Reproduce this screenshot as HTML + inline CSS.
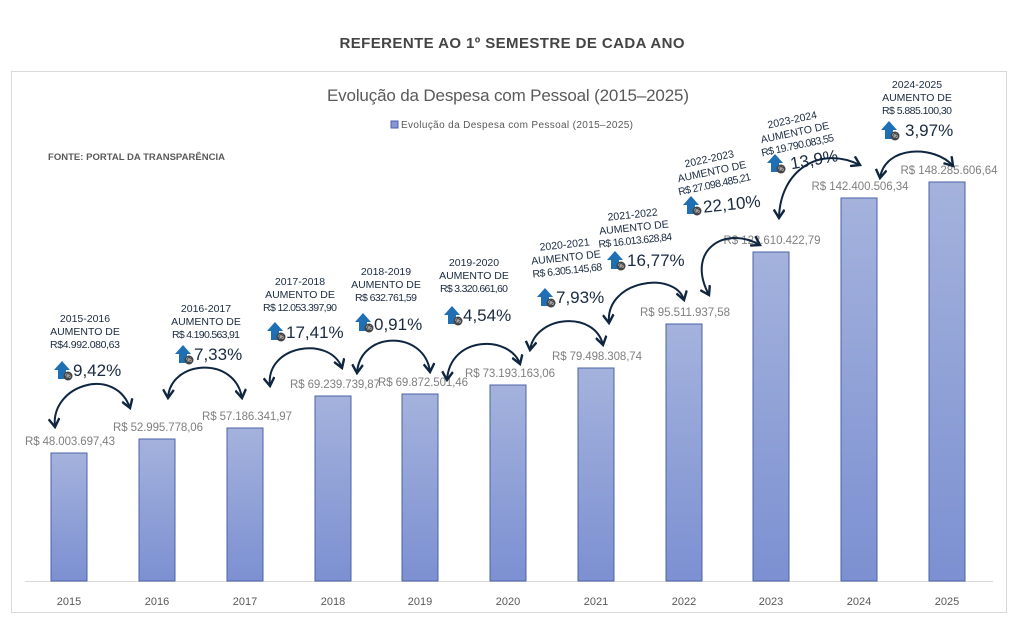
<!DOCTYPE html>
<html><head><meta charset="utf-8"><style>
body{margin:0;background:#fff;}
svg{display:block;font-family:"Liberation Sans",sans-serif;}
</style></head><body>
<svg width="1024" height="621" viewBox="0 0 1024 621" xmlns="http://www.w3.org/2000/svg">
<defs>
<linearGradient id="bg" x1="0" y1="0" x2="0" y2="1"><stop offset="0" stop-color="#a4b2dc"/><stop offset="1" stop-color="#7c90d2"/></linearGradient>
<marker id="ah" viewBox="0 0 10 10" refX="8" refY="5" markerWidth="6" markerHeight="6" orient="auto-start-reverse"><path d="M1,0.5 L8,5 L1,9.5" fill="none" stroke="#0f2540" stroke-width="2"/></marker>
<g id="ic"><path d="M-4,0 L-4,-9 L-8,-9 L0,-18 L8,-9 L4,-9 L4,0 Z" fill="#1f6fb5"/><circle cx="6" cy="-3" r="4.5" fill="#444"/><text x="6" y="-1" font-size="6" fill="#fff" text-anchor="middle">%</text></g>
</defs>
<text x="512" y="48" font-size="15" font-weight="bold" fill="#444" text-anchor="middle" textLength="345">REFERENTE AO 1º SEMESTRE DE CADA ANO</text>
<rect x="11.5" y="71.5" width="995" height="541" fill="#fff" stroke="#d9d9d9"/>
<text x="508" y="101" font-size="17" fill="#595959" text-anchor="middle" textLength="362">Evolução  da Despesa  com Pessoal  (2015–2025)</text>
<rect x="391" y="121" width="7" height="7" fill="#8797d4" stroke="#4a62a8"/>
<text x="401" y="128" font-size="10" fill="#595959" textLength="232">Evolução da Despesa com Pessoal (2015–2025)</text>
<text x="48" y="160" font-size="9.5" font-weight="bold" fill="#595959" textLength="177">FONTE: PORTAL DA TRANSPARÊNCIA</text>
<line x1="25" y1="581.5" x2="993" y2="581.5" stroke="#d9d9d9"/>
<g fill="url(#bg)" stroke="#4a62a8" stroke-width="1">
<rect x="51" y="453" width="36" height="128"/>
<rect x="139" y="439" width="36" height="142"/>
<rect x="227" y="428" width="36" height="153"/>
<rect x="315" y="396" width="36" height="185"/>
<rect x="402" y="394" width="36" height="187"/>
<rect x="490" y="385" width="36" height="196"/>
<rect x="578" y="368" width="36" height="213"/>
<rect x="666" y="324" width="36" height="257"/>
<rect x="753" y="252" width="36" height="329"/>
<rect x="841" y="198" width="36" height="383"/>
<rect x="929" y="182" width="36" height="399"/>
</g>
<g font-size="11" fill="#595959" text-anchor="middle">
<text x="69" y="605">2015</text><text x="157" y="605">2016</text><text x="245" y="605">2017</text><text x="333" y="605">2018</text><text x="420" y="605">2019</text><text x="508" y="605">2020</text><text x="596" y="605">2021</text><text x="684" y="605">2022</text><text x="771" y="605">2023</text><text x="859" y="605">2024</text><text x="947" y="605">2025</text>
</g>
<g font-size="11.5" fill="#7f7f7f" text-anchor="middle">
<text x="70" y="445" textLength="90">R$ 48.003.697,43</text>
<text x="158" y="431" textLength="90">R$ 52.995.778,06</text>
<text x="247" y="420" textLength="90">R$ 57.186.341,97</text>
<text x="335" y="388" textLength="90">R$ 69.239.739,87</text>
<text x="423" y="386" textLength="90">R$ 69.872.501,46</text>
<text x="510" y="377" textLength="90">R$ 73.193.163,06</text>
<text x="597" y="360" textLength="90">R$ 79.498.308,74</text>
<text x="685" y="316" textLength="90">R$ 95.511.937,58</text>
<text x="772" y="244" textLength="97">R$ 122.610.422,79</text>
<text x="860" y="190" textLength="97">R$ 142.400.506,34</text>
<text x="949" y="174" textLength="97">R$ 148.285.606,64</text>
</g>
<g font-size="10.5" fill="#1a2a40" text-anchor="middle">
<text x="85" y="322">2015-2016</text><text x="85" y="335">AUMENTO DE</text><text x="85" y="348" textLength="70">R$4.992.080,63</text>
<text x="206" y="312">2016-2017</text><text x="206" y="325">AUMENTO DE</text><text x="206" y="338" textLength="68">R$ 4.190.563,91</text>
<text x="300" y="285">2017-2018</text><text x="300" y="298">AUMENTO DE</text><text x="300" y="311" textLength="74">R$ 12.053.397,90</text>
<text x="386" y="275">2018-2019</text><text x="386" y="288">AUMENTO DE</text><text x="386" y="301" textLength="62">R$ 632.761,59</text>
<text x="474" y="266">2019-2020</text><text x="474" y="279">AUMENTO DE</text><text x="474" y="292" textLength="68">R$ 3.320.661,60</text>
<g transform="rotate(-6 566 258)"><text x="566" y="248">2020-2021</text><text x="566" y="261">AUMENTO DE</text><text x="566" y="274" textLength="70">R$ 6.305.145,68</text></g>
<g transform="rotate(-6 634 228)"><text x="634" y="218">2021-2022</text><text x="634" y="231">AUMENTO DE</text><text x="634" y="244" textLength="74">R$ 16.013.628,84</text></g>
<g transform="rotate(-12 712 172)"><text x="712" y="162">2022-2023</text><text x="712" y="175">AUMENTO DE</text><text x="712" y="188" textLength="74">R$ 27.098.485,21</text></g>
<g transform="rotate(-12 795 133)"><text x="795" y="123">2023-2024</text><text x="795" y="136">AUMENTO DE</text><text x="795" y="149" textLength="74">R$ 19.790.083,55</text></g>
<text x="917" y="88">2024-2025</text><text x="917" y="101">AUMENTO DE</text><text x="917" y="114" textLength="70">R$ 5.885.100,30</text>
</g>
<g font-size="17" fill="#1a2a40">
<use href="#ic" x="62" y="379"/><text x="73" y="376">9,42%</text>
<use href="#ic" x="183" y="363"/><text x="194" y="360">7,33%</text>
<use href="#ic" x="275" y="340"/><text x="286" y="338">17,41%</text>
<use href="#ic" x="363" y="331"/><text x="374" y="330">0,91%</text>
<use href="#ic" x="452" y="324"/><text x="463" y="321">4,54%</text>
<use href="#ic" x="545" y="306"/><text x="556" y="303">7,93%</text>
<use href="#ic" x="615" y="269"/><text x="627" y="266">16,77%</text>
<use href="#ic" x="691" y="214"/><text x="703" y="211" transform="rotate(-6 720 205)">22,10%</text>
<use href="#ic" x="775" y="172"/><text x="790" y="166" transform="rotate(-10 810 160)">13,9%</text>
<use href="#ic" x="889" y="139"/><text x="905" y="136">3,97%</text>
</g>
<g fill="none" stroke="#0f2540" stroke-width="2" marker-start="url(#ah)" marker-end="url(#ah)">
<path d="M55,427 C50,385 115,365 130,408"/>
<path d="M168,398 C170,360 235,355 242,398"/>
<path d="M270,386 C265,345 330,335 342,368"/>
<path d="M357,373 C360,330 425,330 430,372"/>
<path d="M447,380 C450,335 510,335 520,364"/>
<path d="M530,350 C535,315 595,310 603,345"/>
<path d="M609,323 C605,280 675,270 684,300"/>
<path d="M709,295 C685,250 725,225 760,245"/>
<path d="M779,218 C780,170 820,145 860,165"/>
<path d="M880,178 C885,145 935,145 953,166"/>
</g>
</svg>
</body></html>
